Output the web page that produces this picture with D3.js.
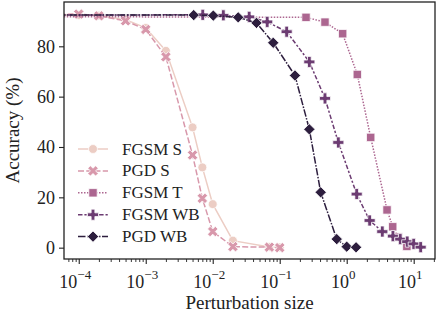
<!DOCTYPE html>
<html>
<head>
<meta charset="utf-8">
<script src="https://cdn.jsdelivr.net/npm/d3@7"></script>
<style>
  body { margin: 0; background: #fff; }
  svg text { font-family: "Liberation Serif", "Times New Roman", serif; }
</style>
</head>
<body>
<svg id="chart" width="438" height="316"></svg>
<script>
// perturbation sizes (0 = clean accuracy) and accuracies (%)
var epsS = [0, 1e-4, 2e-4, 5e-4, 1e-3, 2e-3, 5e-3, 7e-3, 1e-2, 2e-2, 7e-2, 1e-1];
var fgsmS = [92.4, 92.4, 92.2, 90.6, 87.3, 78.2, 47.8, 31.9, 17.3, 2.8, 0.3, 0.1];
var pgdS = [92.4, 92.8, 92.1, 90.1, 86.7, 75.8, 36.8, 19.6, 6.4, 0.4, 0.2, 0.0];

var epsT = [0, 0.247, 0.474, 0.87, 1.44, 2.28, 4.0, 4.86, 5.9, 7.9];
var fgsmT = [92.0, 91.5, 89.6, 85.0, 68.8, 43.8, 15.0, 8.3, 4.2, 0.5];

var epsFW = [0, 0.0071, 0.0144, 0.035, 0.065, 0.127, 0.277, 0.474, 0.75, 1.41, 2.2, 3.4, 4.9, 6.3, 8.0, 10.0, 12.7];
var fgsmWB = [92.4, 92.5, 92.3, 91.7, 89.7, 85.8, 73.8, 59.3, 41.8, 21.3, 10.8, 6.4, 4.6, 3.4, 2.4, 1.5, 0.2];

var epsPW = [0, 0.0052, 0.0102, 0.024, 0.045, 0.080, 0.169, 0.277, 0.409, 0.71, 1.0, 1.38];
var pgdWB = [92.4, 92.4, 92.2, 91.5, 89.3, 81.4, 68.4, 47.0, 22.0, 3.4, 0.4, 0.15];

var seriesNames = ['FGSM S', 'PGD S', 'FGSM T', 'FGSM WB', 'PGD WB'];
var yTicks = [0, 20, 40, 60, 80];
var xTicks = [1e-4, 1e-3, 1e-2, 1e-1, 1, 10];

var series = [
  { name: seriesNames[0], eps: epsS, acc: fgsmS, color: '#eccdc4', dash: null, marker: 'circle' },
  { name: seriesNames[1], eps: epsS, acc: pgdS, color: '#d898ab', dash: '6,2.25', marker: 'x' },
  { name: seriesNames[2], eps: epsT, acc: fgsmT, color: '#ac6690', dash: '1.5,1.5', marker: 'square' },
  { name: seriesNames[3], eps: epsFW, acc: fgsmWB, color: '#6c3c72', dash: '4.5,1.9,2.25,1.9', marker: 'plus' },
  { name: seriesNames[4], eps: epsPW, acc: pgdWB, color: '#2d1e3e', dash: '7.5,1.5,1.5,1.5', marker: 'diamond' }
];

var margin = { top: 2, right: 3, bottom: 57, left: 64 };
var width = 438 - margin.left - margin.right;
var height = 316 - margin.top - margin.bottom;

var svg = d3.select('#chart').append('g')
  .attr('transform', 'translate(' + margin.left + ',' + margin.top + ')');

var xScale = d3.scaleLog()
  .domain([Math.pow(10, -4.22), Math.pow(10, 1.318)])
  .range([0, width]);
var yScale = d3.scaleLinear()
  .domain([-4.5, 97.6])
  .range([height, 0]);

var epsZero = 1e-7; // clean point sits far left, clipped by the frame
function xPos(e) { return xScale(e > 0 ? e : epsZero); }

svg.append('clipPath').attr('id', 'clip')
  .append('rect').attr('width', width).attr('height', height);

function symbolFor(kind) {
  if (kind === 'circle') return d3.symbol().type(d3.symbolCircle).size(62);
  if (kind === 'square') return d3.symbol().type(d3.symbolSquare).size(70);
  if (kind === 'diamond') return d3.symbol().type(d3.symbolSquare).size(64);
  return d3.symbol().type(d3.symbolCross).size(68);
}
function rotFor(kind) {
  return (kind === 'x' || kind === 'diamond') ? ' rotate(45)' : '';
}

var line = d3.line()
  .x(function (d) { return xPos(d[0]); })
  .y(function (d) { return yScale(d[1]); });

var plot = svg.append('g').attr('clip-path', 'url(#clip)');

series.forEach(function (s) {
  var pts = s.eps.map(function (e, i) { return [e, s.acc[i]]; });
  plot.append('path')
    .datum(pts)
    .attr('d', line)
    .attr('fill', 'none')
    .attr('stroke', s.color)
    .attr('stroke-width', 1.5)
    .attr('stroke-dasharray', s.dash);
  plot.selectAll(null)
    .data(pts.filter(function (p) { return p[0] > 0; }))
    .enter().append('path')
    .attr('d', symbolFor(s.marker)())
    .attr('transform', function (d) {
      return 'translate(' + xPos(d[0]) + ',' + yScale(d[1]) + ')' + rotFor(s.marker);
    })
    .attr('fill', s.color)
    .attr('stroke', '#fff')
    .attr('stroke-width', 0.75);
});

// axes
var minor = [];
for (var p = -5; p <= 1; p++) {
  for (var k = 2; k <= 9; k++) {
    var v = k * Math.pow(10, p);
    if (v > xScale.domain()[0] && v < xScale.domain()[1]) minor.push(v);
  }
}
svg.append('g')
  .attr('transform', 'translate(0,' + height + ')')
  .call(d3.axisBottom(xScale).tickValues(minor).tickSize(3).tickFormat(''))
  .call(function (g) { g.select('.domain').remove(); g.selectAll('line').attr('stroke', '#222').attr('stroke-width', 0.9); });

var xAxis = svg.append('g')
  .attr('transform', 'translate(0,' + height + ')')
  .call(d3.axisBottom(xScale).tickValues(xTicks).tickSize(5).tickFormat(''))
  .attr('font-family', null).attr('font-size', null);
xAxis.select('.domain').remove();
xAxis.selectAll('line').attr('stroke', '#222').attr('stroke-width', 1.1);
xAxis.selectAll('.tick').append('text')
  .attr('y', 29)
  .attr('text-anchor', 'middle')
  .attr('fill', '#222')
  .style('font-size', '18px')
  .each(function (d) {
    var t = d3.select(this);
    t.append('tspan').attr('dx', -4).text('10');
    t.append('tspan').attr('dy', -9).style('font-size', '13px').text(String(Math.round(Math.log10(d))).replace('-', '\u2212'));
  });

var yAxis = svg.append('g')
  .call(d3.axisLeft(yScale).tickValues(yTicks).tickSize(5).tickPadding(4))
  .attr('font-family', null).attr('font-size', null);
yAxis.select('.domain').remove();
yAxis.selectAll('line').attr('stroke', '#222').attr('stroke-width', 1.1);
yAxis.selectAll('text').attr('fill', '#222').style('font-size', '18px');

// frame
svg.append('rect')
  .attr('width', width).attr('height', height)
  .attr('fill', 'none').attr('stroke', '#222').attr('stroke-width', 1.3);

// labels
svg.append('text')
  .attr('x', width / 2)
  .attr('y', height + 50)
  .attr('text-anchor', 'middle')
  .attr('fill', '#222')
  .style('font-size', '19px')
  .text('Perturbation size');
svg.append('text')
  .attr('transform', 'rotate(-90)')
  .attr('x', -height / 2)
  .attr('y', -45)
  .attr('text-anchor', 'middle')
  .attr('fill', '#222')
  .style('font-size', '19px')
  .text('Accuracy (%)');

// legend
var legend = svg.append('g').attr('transform', 'translate(14,147)');
series.forEach(function (s, i) {
  var row = legend.append('g').attr('transform', 'translate(0,' + (i * 21.9) + ')');
  row.append('line')
    .attr('x1', 0).attr('x2', 30)
    .attr('stroke', s.color).attr('stroke-width', 1.5)
    .attr('stroke-dasharray', s.dash);
  row.append('path')
    .attr('d', symbolFor(s.marker)())
    .attr('transform', 'translate(15,0)' + rotFor(s.marker))
    .attr('fill', s.color).attr('stroke', '#fff').attr('stroke-width', 0.75);
  row.append('text')
    .attr('x', 44).attr('y', 5.5)
    .attr('fill', '#222')
    .style('font-size', '17px')
    .text(s.name);
});
</script>
</body>
</html>
